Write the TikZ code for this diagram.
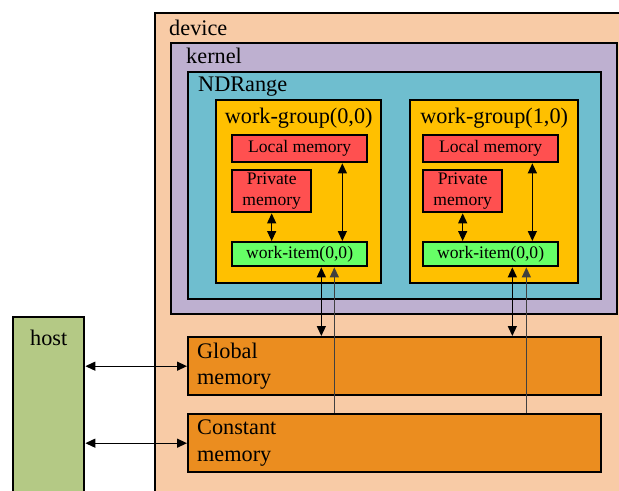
\documentclass[tikz,border=0pt]{standalone}
\usepackage{fontspec}
\setmainfont{Liberation Serif}
\usetikzlibrary{arrows.meta}

\definecolor{devicebg}{HTML}{F8CBA6}
\definecolor{kernelbg}{HTML}{BEB0D0}
\definecolor{ndrbg}{HTML}{6FBECF}
\definecolor{groupbg}{HTML}{FFC000}
\definecolor{membg}{HTML}{FF5050}
\definecolor{itembg}{HTML}{66FF66}
\definecolor{globbg}{HTML}{EB8D1F}
\definecolor{hostbg}{HTML}{B4C985}

\newcommand{\titlefont}{\rmfamily\fontsize{19}{23}\selectfont}
\newcommand{\memfont}{\rmfamily\fontsize{15}{18}\selectfont}

\begin{document}
\begin{tikzpicture}[x=0.03cm, y=-0.03cm,
  box/.style={rectangle, draw=black, line width=2pt, anchor=north west, inner sep=0pt},
  lbl/.style={anchor=north west, inner sep=0pt, font=\titlefont},
  wgl/.style={anchor=north, inner sep=0pt, yshift=-0.27cm, font=\titlefont},
  mem/.style={box, fill=membg, font=\memfont, align=center},
  item/.style={box, fill=itembg, font=\memfont},
  store/.style={box, fill=globbg, text width=11.85cm, inner xsep=0.27cm, minimum height=1.74cm, align=left, font=\titlefont},
  dbl/.style={{Triangle[length=0.3cm,width=0.27cm]}-{Triangle[length=0.3cm,width=0.27cm]}, line width=1.1pt},
  one/.style={-{Triangle[length=0.3cm,width=0.27cm]}, line width=1.1pt, black!75}
]
\clip (0,0) rectangle (619,490);

% nested containers
\node[box, fill=devicebg, minimum width=15cm, minimum height=15cm,
      label={[lbl, xshift=0.45cm, yshift=-0.24cm]north west:device}] (device) at (154,12) {};
\node[box, fill=kernelbg, minimum width=13.38cm, minimum height=8.13cm,
      label={[lbl, xshift=0.48cm, yshift=-0.18cm]north west:kernel}] (kernel) at (170,42) {};
\node[box, fill=ndrbg, minimum width=12.39cm, minimum height=6.81cm,
      label={[lbl, xshift=0.33cm, yshift=-0.18cm]north west:NDRange}] (ndrange) at (187,71) {};

% work-group (0,0)
\node[box, fill=groupbg, minimum width=4.95cm, minimum height=5.49cm,
      label={[wgl]north:{work-group(0,0)}}] (wg0) at (215,99) {};
\node[mem, minimum width=4.05cm, minimum height=0.81cm] (loc0) at (231,134) {Local memory};
\node[mem, minimum width=2.37cm, minimum height=1.26cm] (priv0) at (231,169) {Private\\memory};
\node[item, minimum width=4.05cm, minimum height=0.72cm] (wi0) at (231,241) {work-item(0,0)};

% work-group (1,0)
\node[box, fill=groupbg, minimum width=5.04cm, minimum height=5.49cm,
      label={[wgl]north:{work-group(1,0)}}] (wg1) at (409,99) {};
\node[mem, minimum width=4.05cm, minimum height=0.81cm] (loc1) at (422,134) {Local memory};
\node[mem, minimum width=2.37cm, minimum height=1.26cm] (priv1) at (422,169) {Private\\memory};
\node[item, minimum width=4.05cm, minimum height=0.72cm] (wi1) at (422,241) {work-item(0,0)};

% device memories and host
\node[store] (global) at (187,336) {Global\\memory};
\node[store] (constant) at (187,413) {Constant\\memory};
\node[box, fill=hostbg, minimum width=2.13cm, minimum height=6cm,
      label={[lbl, anchor=north, yshift=-0.4cm]north:host}] (host) at (12,316) {};

% inside the work-groups
\draw[dbl] (priv0.south) -- (priv0.south |- wi0.north);
\draw[dbl] ([xshift=-0.78cm]loc0.south east) -- ([xshift=-0.78cm]loc0.south east |- wi0.north);
\draw[dbl] (priv1.south) -- (priv1.south |- wi1.north);
\draw[dbl] ([xshift=-0.81cm]loc1.south east) -- ([xshift=-0.81cm]loc1.south east |- wi1.north);

% work-items to global / constant memory
\draw[dbl] ([xshift=0.65cm]wi0.south) -- ([xshift=0.65cm]wi0.south |- global.north);
\draw[one] ([xshift=1.04cm]wi0.south |- constant.north) -- ([xshift=1.04cm]wi0.south);
\draw[dbl] ([xshift=0.65cm]wi1.south) -- ([xshift=0.65cm]wi1.south |- global.north);
\draw[one] ([xshift=1.07cm]wi1.south |- constant.north) -- ([xshift=1.07cm]wi1.south);

% host transfers
\draw[dbl] (host.east |- global.west) -- (global.west);
\draw[dbl] (host.east |- constant.west) -- (constant.west);
\end{tikzpicture}
\end{document}
